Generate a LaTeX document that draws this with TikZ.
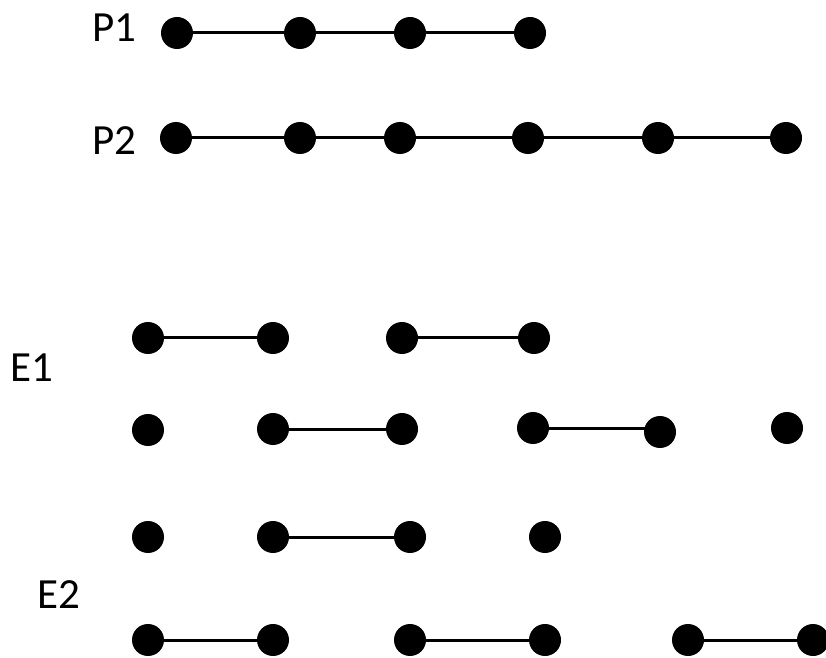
\documentclass[tikz,border=0pt]{standalone}
\usepackage{fontspec}
\setmainfont{Carlito}
\begin{document}
\begin{tikzpicture}[x=0.5pt,y=-0.5pt,
  dot/.style={circle,fill=black,inner sep=0pt,minimum size=16pt},
  lbl/.style={anchor=base west,inner sep=0pt,font=\fontsize{21.5}{24}\selectfont},
  edge/.style={line width=1.5pt}]
\useasboundingbox (0,0) rectangle (826,658);
% labels
\node[lbl] (lp1) at (92,42) {P1};
\node[lbl] (lp2) at (92,155) {P2};
\node[lbl] (le1) at (10,381) {E1};
\node[lbl] (le2) at (37,608) {E2};
% P1
\foreach \n/\x in {1/177,2/300,3/410,4/530} \node[dot] (a\n) at (\x,33) {};
% P2
\foreach \n/\x in {1/176,2/300,3/400,4/528,5/658,6/786} \node[dot] (b\n) at (\x,138) {};
% E1 row 1
\foreach \n/\x in {1/148,2/273,3/402,4/534} \node[dot] (c\n) at (\x,338) {};
% E1 row 2
\foreach \n/\x/\y in {1/148/430,2/273/429,3/402/429,4/533/428,5/660/432,6/787/428} \node[dot] (d\n) at (\x,\y) {};
% E2 row 1
\foreach \n/\x in {1/148,2/273,3/410,4/545} \node[dot] (e\n) at (\x,537) {};
% E2 row 2
\foreach \n/\x in {1/148,2/273,3/410,4/545,5/688,6/813} \node[dot] (f\n) at (\x,640) {};
% edges
\draw[edge] (a1) -- (a2) -- (a3) -- (a4);
\draw[edge] (b1) -- (b2) -- (b3) -- (b4) -- (b5) -- (b6);
\draw[edge] (c1) -- (c2);
\draw[edge] (c3) -- (c4);
\draw[edge] (d2) -- (d3);
\draw[edge] (d4) -- (d4 -| d5);
\draw[edge] (e2) -- (e3);
\draw[edge] (f1) -- (f2);
\draw[edge] (f3) -- (f4);
\draw[edge] (f5) -- (f6);
\end{tikzpicture}
\end{document}
